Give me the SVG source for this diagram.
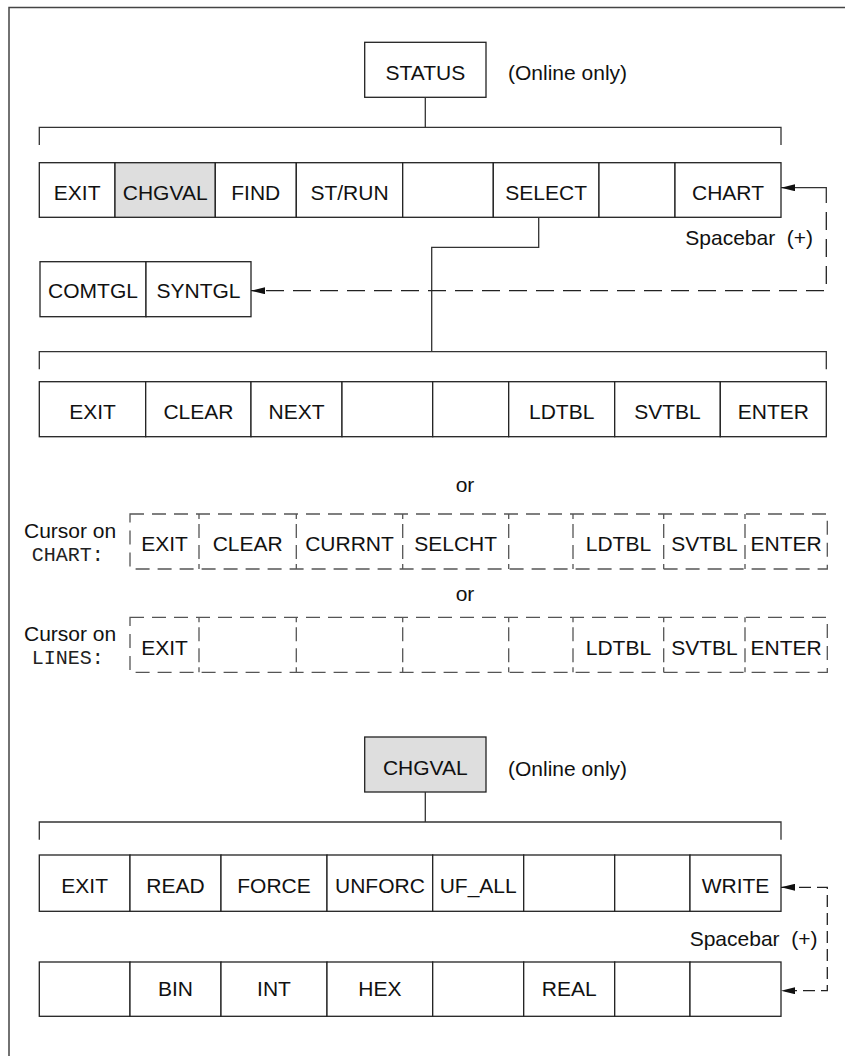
<svg xmlns="http://www.w3.org/2000/svg" width="845" height="1056" viewBox="0 0 845 1056">
<style>
.t{font-family:"Liberation Sans",Arial,Helvetica,sans-serif;font-size:21px;fill:#111;text-anchor:middle}
.s{font-family:"Liberation Sans",Arial,Helvetica,sans-serif;font-size:21px;fill:#111}
.m{font-family:"Liberation Mono","Courier New",monospace;font-size:20px;fill:#222}
.c{fill:#fff;stroke:#222;stroke-width:1.3}
.g{fill:#dedede;stroke:#222;stroke-width:1.3}
.ln{fill:none;stroke:#333;stroke-width:1.3}
.fr{fill:none;stroke:#444;stroke-width:1.5}
.d{fill:none;stroke:#555;stroke-width:1.3;stroke-dasharray:14 8}
.dv{fill:none;stroke:#555;stroke-width:1.3;stroke-dasharray:5 5 14 7 14 5 5}
.cn{fill:none;stroke:#222;stroke-width:1.3;stroke-dasharray:18 9}
.cn2{fill:none;stroke:#222;stroke-width:1.3;stroke-dasharray:12 6}
</style>
<defs>
<marker id="ah" viewBox="0 0 14 7" refX="14" refY="3.5" markerWidth="14" markerHeight="7" orient="auto-start-reverse" markerUnits="userSpaceOnUse"><path d="M0,0L14,3.5L0,7z" fill="#111"/></marker>
</defs>

<g id="frame"><path class="fr" d="M9,1056V7.5H845"/></g>

<g id="status">
<rect class="c" x="364.7" y="42.3" width="121.3" height="55"/>
<text class="t" x="425.3" y="79.5">STATUS</text>
<text class="s" x="508" y="80">(Online only)</text>
</g>

<g id="row1">
<rect class="c" x="39.3" y="162.7" width="75.7" height="54.6"/>
<rect class="g" x="115" y="162.7" width="100.3" height="54.6"/>
<rect class="c" x="215.3" y="162.7" width="81" height="54.6"/>
<rect class="c" x="296.3" y="162.7" width="106.4" height="54.6"/>
<rect class="c" x="402.7" y="162.7" width="90.6" height="54.6"/>
<rect class="c" x="493.3" y="162.7" width="105.7" height="54.6"/>
<rect class="c" x="599" y="162.7" width="76" height="54.6"/>
<rect class="c" x="675" y="162.7" width="106" height="54.6"/>
<text class="t" x="77.2" y="200">EXIT</text>
<text class="t" x="165.2" y="200">CHGVAL</text>
<text class="t" x="255.8" y="200">FIND</text>
<text class="t" x="349.5" y="200">ST/RUN</text>
<text class="t" x="546.2" y="200">SELECT</text>
<text class="t" x="728" y="200">CHART</text>
</g>

<g id="toggles">
<rect class="c" x="40" y="261.7" width="106" height="55"/>
<rect class="c" x="146" y="261.7" width="105" height="55"/>
<text class="t" x="93" y="297.5">COMTGL</text>
<text class="t" x="198.5" y="297.5">SYNTGL</text>
</g>

<g id="row2">
<rect class="c" x="39.3" y="381.7" width="106.4" height="55"/>
<rect class="c" x="145.7" y="381.7" width="105.3" height="55"/>
<rect class="c" x="251" y="381.7" width="91" height="55"/>
<rect class="c" x="342" y="381.7" width="90.7" height="55"/>
<rect class="c" x="432.7" y="381.7" width="76" height="55"/>
<rect class="c" x="508.7" y="381.7" width="106" height="55"/>
<rect class="c" x="614.7" y="381.7" width="105.6" height="55"/>
<rect class="c" x="720.3" y="381.7" width="106" height="55"/>
<text class="t" x="92.5" y="419.3">EXIT</text>
<text class="t" x="198.4" y="419.3">CLEAR</text>
<text class="t" x="296.5" y="419.3">NEXT</text>
<text class="t" x="561.7" y="419.3">LDTBL</text>
<text class="t" x="667.5" y="419.3">SVTBL</text>
<text class="t" x="773.3" y="419.3">ENTER</text>
</g>

<g id="or1"><text class="t" x="465" y="491.7">or</text></g>

<g id="chart-row">
<text class="s" x="24" y="538">Cursor on</text>
<text class="m" x="31.7" y="561">CHART:</text>
<rect class="d" x="130" y="514" width="697.3" height="55"/>
<path class="dv" d="M199,514V569M296.3,514V569M402.7,514V569M508.7,514V569M573,514V569M663.7,514V569M745,514V569"/>
<text class="t" x="164.5" y="551.3">EXIT</text>
<text class="t" x="247.7" y="551.3">CLEAR</text>
<text class="t" x="349.5" y="551.3">CURRNT</text>
<text class="t" x="455.7" y="551.3">SELCHT</text>
<text class="t" x="618.4" y="551.3">LDTBL</text>
<text class="t" x="704.4" y="551.3">SVTBL</text>
<text class="t" x="786.2" y="551.3">ENTER</text>
</g>

<g id="or2"><text class="t" x="465" y="601.3">or</text></g>

<g id="lines-row">
<text class="s" x="24" y="641.3">Cursor on</text>
<text class="m" x="31.7" y="664">LINES:</text>
<rect class="d" x="130" y="617.3" width="697.3" height="55"/>
<path class="dv" d="M199,617.3V672.3M296.3,617.3V672.3M402.7,617.3V672.3M508.7,617.3V672.3M573,617.3V672.3M663.7,617.3V672.3M745,617.3V672.3"/>
<text class="t" x="164.5" y="654.7">EXIT</text>
<text class="t" x="618.4" y="654.7">LDTBL</text>
<text class="t" x="704.4" y="654.7">SVTBL</text>
<text class="t" x="786.2" y="654.7">ENTER</text>
</g>

<g id="chgval">
<rect class="g" x="364.7" y="737" width="121.3" height="55"/>
<text class="t" x="425.3" y="774.7">CHGVAL</text>
<text class="s" x="508" y="776">(Online only)</text>
</g>

<g id="row3">
<rect class="c" x="39.3" y="855" width="90.7" height="56.3"/>
<rect class="c" x="130" y="855" width="91" height="56.3"/>
<rect class="c" x="221" y="855" width="106" height="56.3"/>
<rect class="c" x="327" y="855" width="105.7" height="56.3"/>
<rect class="c" x="432.7" y="855" width="91" height="56.3"/>
<rect class="c" x="523.7" y="855" width="91" height="56.3"/>
<rect class="c" x="614.7" y="855" width="75.3" height="56.3"/>
<rect class="c" x="690" y="855" width="91" height="56.3"/>
<text class="t" x="84.7" y="893">EXIT</text>
<text class="t" x="175.5" y="893">READ</text>
<text class="t" x="274" y="893">FORCE</text>
<text class="t" x="379.9" y="893">UNFORC</text>
<text class="t" x="478.2" y="893">UF_ALL</text>
<text class="t" x="735.5" y="893">WRITE</text>
</g>

<g id="row4">
<rect class="c" x="39.3" y="962" width="90.7" height="54.3"/>
<rect class="c" x="130" y="962" width="91" height="54.3"/>
<rect class="c" x="221" y="962" width="106" height="54.3"/>
<rect class="c" x="327" y="962" width="105.7" height="54.3"/>
<rect class="c" x="432.7" y="962" width="91" height="54.3"/>
<rect class="c" x="523.7" y="962" width="91" height="54.3"/>
<rect class="c" x="614.7" y="962" width="75.3" height="54.3"/>
<rect class="c" x="690" y="962" width="91" height="54.3"/>
<text class="t" x="175.5" y="996.3">BIN</text>
<text class="t" x="274" y="996.3">INT</text>
<text class="t" x="379.9" y="996.3">HEX</text>
<text class="t" x="569.2" y="996.3">REAL</text>
</g>

<g id="connectors">
<path class="ln" d="M425.3,97.3V127.3"/>
<path class="ln" d="M39.3,145V127.3H781V145"/>
<path class="ln" d="M538.7,217.3V247.3H431.7V351.7"/>
<path class="ln" d="M39.3,369.3V351.7H826.3V369.3"/>
<path class="ln" d="M826.3,203V187.7H781" marker-end="url(#ah)"/>
<path class="cn" d="M826.3,212V290.7H251" marker-end="url(#ah)"/>
<text class="s" x="685.3" y="245">Spacebar&#160; (+)</text>
<path class="ln" d="M425.3,792V822"/>
<path class="ln" d="M39.3,839.7V822H781V839.7"/>
<path class="cn2" d="M781,887.3H827.3V990.7H781" marker-start="url(#ah)" marker-end="url(#ah)"/>
<text class="s" x="689.7" y="946.3">Spacebar&#160; (+)</text>
</g>
</svg>
